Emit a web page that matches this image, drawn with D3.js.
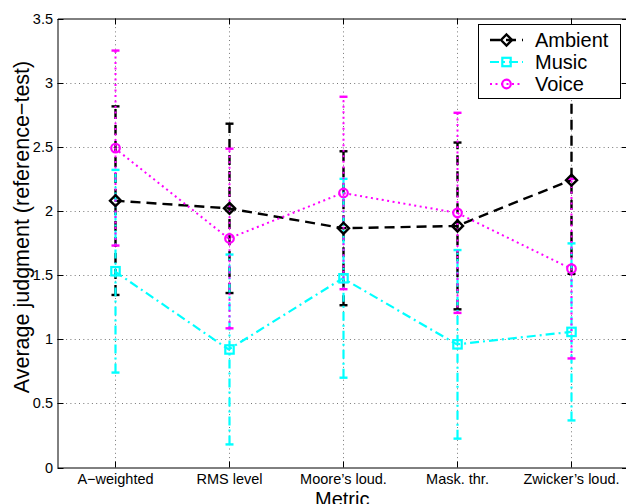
<!DOCTYPE html>
<html><head><meta charset="utf-8">
<script src="https://cdn.jsdelivr.net/npm/d3@7"></script>
<style>body{margin:0;background:#fff}svg{display:block}text{font-family:"Liberation Sans",Arial,Helvetica,sans-serif}</style>
</head><body><svg id="c" width="626" height="504"></svg>
<script>
const categories = ["A\u2212weighted","RMS level","Moore\u2019s loud.","Mask. thr.","Zwicker\u2019s loud."];
const seriesNames = ["Ambient","Music","Voice"];
const ambientMean = [2.08, 2.02, 1.865, 1.883, 2.24];
const ambientErr  = [0.735, 0.66, 0.60, 0.65, 0.73];
const musicMean   = [1.53, 0.92, 1.475, 0.96, 1.057];
const musicErr    = [0.79, 0.74, 0.775, 0.735, 0.69];
const voiceMean   = [2.49, 1.785, 2.14, 1.985, 1.55];
const voiceErr    = [0.76, 0.70, 0.75, 0.78, 0.70];
const yTicks = [0, 0.5, 1, 1.5, 2, 2.5, 3, 3.5];

const series = [
  {name: seriesNames[0], mean: ambientMean, err: ambientErr, color: "#000000", dash: "10,6", width: 2.4, marker: "diamond"},
  {name: seriesNames[1], mean: musicMean, err: musicErr, color: "#00ffff", dash: "9,4,2,4", width: 2.2, marker: "square"},
  {name: seriesNames[2], mean: voiceMean, err: voiceErr, color: "#ff00ff", dash: "2,3.5", width: 2, marker: "circle"}
];

const svg = d3.select("#c");
const L = 57.5, R = 628, T = 18.5, B = 467.5;
const x = d3.scaleLinear().domain([0.5, 5.5]).range([L, R]);
const y = d3.scaleLinear().domain([0, 3.5]).range([B, T]);
const tickLen = 6;

// grid
const grid = svg.append("g").attr("stroke", "#777").attr("stroke-width", 1).attr("stroke-dasharray", "1,3.3");
yTicks.slice(1, -1).forEach(v => grid.append("line").attr("x1", L).attr("x2", R).attr("y1", Math.round(y(v)) + 0.5).attr("y2", Math.round(y(v)) + 0.5));
categories.forEach((c, i) => grid.append("line").attr("x1", Math.round(x(i + 1)) + 0.5).attr("x2", Math.round(x(i + 1)) + 0.5).attr("y1", T).attr("y2", B));

// axes
const axL = svg.append("g").attr("transform", `translate(${L},0)`)
  .call(d3.axisLeft(y).tickValues(yTicks).tickFormat(d3.format("")).tickSizeInner(-tickLen).tickSizeOuter(0).tickPadding(4));
const axR = svg.append("g").attr("transform", `translate(${R},0)`)
  .call(d3.axisRight(y).tickValues(yTicks).tickFormat("").tickSizeInner(-tickLen).tickSizeOuter(0));
const axB = svg.append("g").attr("transform", `translate(0,${B})`)
  .call(d3.axisBottom(x).tickValues([1,2,3,4,5]).tickFormat((d) => categories[d - 1]).tickSizeInner(-tickLen).tickSizeOuter(0).tickPadding(6));
const axT = svg.append("g").attr("transform", `translate(0,${T})`)
  .call(d3.axisTop(x).tickValues([1,2,3,4,5]).tickFormat("").tickSizeInner(-tickLen).tickSizeOuter(0));
[axL, axR, axB, axT].forEach(a => {
  a.selectAll("path.domain").attr("stroke", "#000").attr("stroke-width", 1);
  a.selectAll(".tick line").attr("stroke", "#000").attr("stroke-width", 1);
  a.selectAll("text").attr("font-size", "14.5px").attr("fill", "#000").attr("font-family", '"Liberation Sans",Arial,sans-serif');
});
axL.selectAll(".tick").attr("transform", d => `translate(0,${Math.round(y(d)) + 0.5})`);
axL.selectAll(".tick text").attr("x", -4.5);
axB.selectAll(".tick").attr("transform", d => `translate(${Math.round(x(d)) + 0.5},0)`);
axT.selectAll(".tick").attr("transform", d => `translate(${Math.round(x(d)) + 0.5},0)`);
axR.selectAll(".tick").attr("transform", d => `translate(0,${Math.round(y(d)) + 0.5})`);

// series
function drawMarker(g, type, cx, cy, color) {
  if (type === "diamond") {
    g.append("path").attr("d", `M${cx},${cy - 5.5}L${cx + 5.5},${cy}L${cx},${cy + 5.5}L${cx - 5.5},${cy}Z`)
      .attr("fill", "none").attr("stroke", color).attr("stroke-width", 2.4);
  } else if (type === "square") {
    g.append("rect").attr("x", cx - 4.2).attr("y", cy - 4.2).attr("width", 8.4).attr("height", 8.4)
      .attr("fill", "none").attr("stroke", color).attr("stroke-width", 2.2);
  } else {
    g.append("circle").attr("cx", cx).attr("cy", cy).attr("r", 4.3)
      .attr("fill", "none").attr("stroke", color).attr("stroke-width", 2.2);
  }
}
const plot = svg.append("g");
series.forEach(s => {
  const g = plot.append("g");
  const pts = s.mean.map((m, i) => [x(i + 1), y(m)]);
  g.append("path").attr("d", d3.line()(pts)).attr("fill", "none").attr("stroke", s.color)
    .attr("stroke-width", s.width).attr("stroke-dasharray", s.dash);
  s.mean.forEach((m, i) => {
    const cx = Math.round(x(i + 1)) + 0.5;
    const y0 = y(m - s.err[i]), y1 = y(m + s.err[i]);
    g.append("line").attr("x1", cx).attr("x2", cx).attr("y1", y0).attr("y2", y1)
      .attr("stroke", s.color).attr("stroke-width", s.width).attr("stroke-dasharray", s.dash);
    [y0, y1].forEach(yy => g.append("line").attr("x1", cx - 4).attr("x2", cx + 4).attr("y1", yy).attr("y2", yy)
      .attr("stroke", s.color).attr("stroke-width", 2.4));
  });
});
series.forEach(s => {
  const g = plot.append("g");
  s.mean.forEach((m, i) => drawMarker(g, s.marker, Math.round(x(i + 1)) + 0.5, y(m), s.color));
});

// labels
svg.append("text").attr("x", (L + 628) / 2 - 0.5).attr("y", 505.5).attr("text-anchor", "middle")
  .attr("font-size", "20px").text("Metric");
svg.append("text").attr("transform", `translate(29,227) rotate(-90)`).attr("text-anchor", "middle")
  .attr("font-size", "21.5px").text("Average judgment (reference\u2212test)");

// legend
const lg = svg.append("g");
lg.append("rect").attr("x", 478.5).attr("y", 24.5).attr("width", 142).attr("height", 74)
  .attr("fill", "#fff").attr("stroke", "#000").attr("stroke-width", 1);
const legY = [40, 62, 84];
series.forEach((s, i) => {
  lg.append("line").attr("x1", 490).attr("x2", 523).attr("y1", legY[i]).attr("y2", legY[i])
    .attr("stroke", s.color).attr("stroke-width", s.width).attr("stroke-dasharray", s.dash);
  drawMarker(lg, s.marker, 506.5, legY[i], s.color);
  lg.append("text").attr("x", 535).attr("y", legY[i] + 7).attr("font-size", "20px").text(s.name);
});
</script></body></html>
